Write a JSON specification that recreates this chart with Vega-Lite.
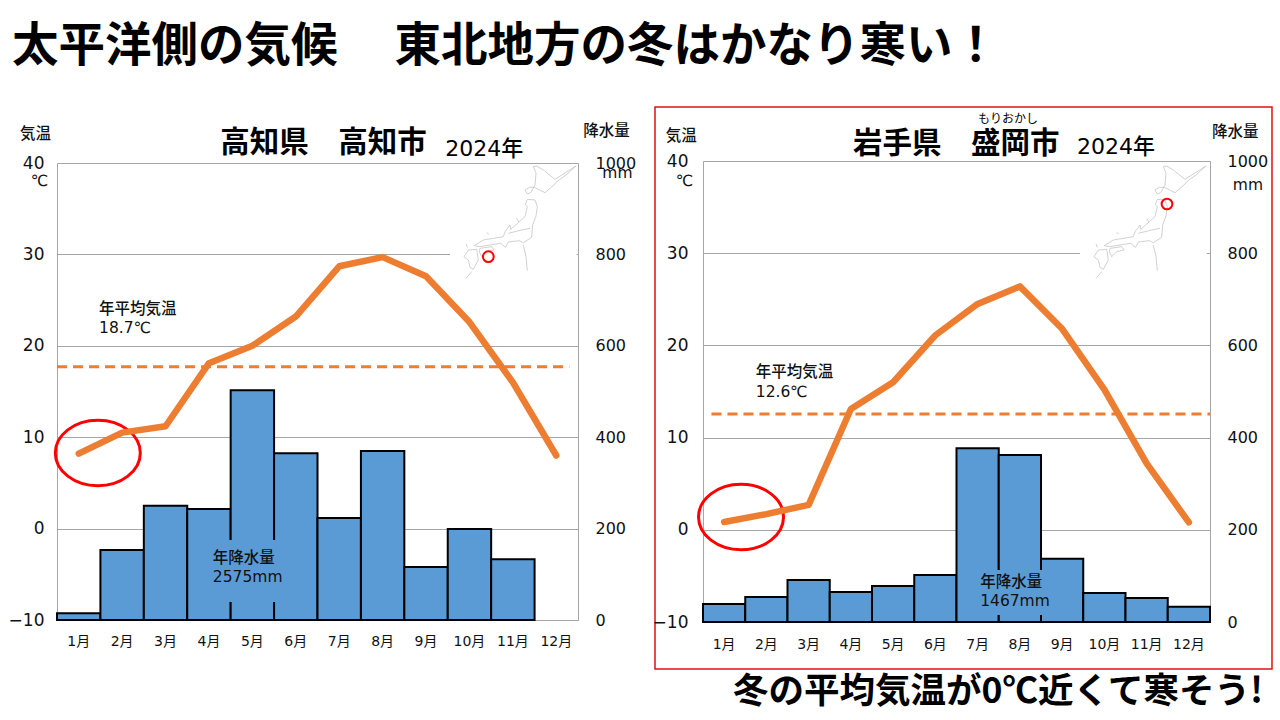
{"$schema":"https://vega.github.io/schema/vega-lite/v6.json","padding":{"left":0,"top":23,"right":0,"bottom":0},"background":"white","spacing":11,"config":{"view":{"stroke":null},"font":"DejaVu Sans, Noto Sans CJK JP","axis":{"labelFont":"DejaVu Sans, Noto Sans CJK JP","labelColor":"#111"},"text":{"font":"DejaVu Sans, Noto Sans CJK JP"}},
"title":{"text":"太平洋側の気候\u3000 東北地方の冬はかなり寒い\uff01","anchor":"start","frame":"group","fontSize":46.5,"fontWeight":"bold","font":"Noto Sans CJK JP","color":"#000","dx":12,"offset":36},
"datasets":{
"kochi":[{"month":"1月","temp":8.2,"rain":15},{"month":"2月","temp":10.5,"rain":153},{"month":"3月","temp":11.2,"rain":250},{"month":"4月","temp":18.1,"rain":243},{"month":"5月","temp":20,"rain":503},{"month":"6月","temp":23.2,"rain":365},{"month":"7月","temp":28.7,"rain":223},{"month":"8月","temp":29.7,"rain":370},{"month":"9月","temp":27.6,"rain":116},{"month":"10月","temp":22.6,"rain":199},{"month":"11月","temp":16,"rain":133},{"month":"12月","temp":8,"rain":0}],
"morioka":[{"month":"1月","temp":0.85,"rain":39},{"month":"2月","temp":1.7,"rain":54},{"month":"3月","temp":2.7,"rain":91},{"month":"4月","temp":13.1,"rain":65},{"month":"5月","temp":16,"rain":78},{"month":"6月","temp":21.1,"rain":102},{"month":"7月","temp":24.5,"rain":377},{"month":"8月","temp":26.4,"rain":362},{"month":"9月","temp":21.8,"rain":137},{"month":"10月","temp":15.2,"rain":63},{"month":"11月","temp":7.2,"rain":52},{"month":"12月","temp":0.8,"rain":33}],
"japan":[
{"part":"hokkaido","seq":1,"mx":280,"my":170},{"part":"hokkaido","seq":2,"mx":290,"my":168},{"part":"hokkaido","seq":3,"mx":310,"my":180},{"part":"hokkaido","seq":4,"mx":345,"my":208},{"part":"hokkaido","seq":5,"mx":370,"my":192},{"part":"hokkaido","seq":6,"mx":408,"my":168},{"part":"hokkaido","seq":7,"mx":378,"my":195},{"part":"hokkaido","seq":8,"mx":350,"my":215},{"part":"hokkaido","seq":9,"mx":345,"my":222},{"part":"hokkaido","seq":10,"mx":315,"my":248},{"part":"hokkaido","seq":11,"mx":283,"my":232},{"part":"hokkaido","seq":12,"mx":268,"my":232},{"part":"hokkaido","seq":13,"mx":255,"my":240},{"part":"hokkaido","seq":14,"mx":262,"my":252},{"part":"hokkaido","seq":15,"mx":272,"my":248},{"part":"hokkaido","seq":16,"mx":285,"my":225},{"part":"hokkaido","seq":17,"mx":288,"my":190},{"part":"hokkaido","seq":18,"mx":280,"my":170},
{"part":"honshu","seq":1,"mx":262,"my":268},{"part":"honshu","seq":2,"mx":285,"my":270},{"part":"honshu","seq":3,"mx":292,"my":290},{"part":"honshu","seq":4,"mx":288,"my":318},{"part":"honshu","seq":5,"mx":278,"my":345},{"part":"honshu","seq":6,"mx":275,"my":382},{"part":"honshu","seq":7,"mx":250,"my":398},{"part":"honshu","seq":8,"mx":238,"my":392},{"part":"honshu","seq":9,"mx":205,"my":396},{"part":"honshu","seq":10,"mx":197,"my":412},{"part":"honshu","seq":11,"mx":182,"my":400},{"part":"honshu","seq":12,"mx":150,"my":405},{"part":"honshu","seq":13,"mx":118,"my":410},{"part":"honshu","seq":14,"mx":103,"my":407},{"part":"honshu","seq":15,"mx":130,"my":390},{"part":"honshu","seq":16,"mx":190,"my":380},{"part":"honshu","seq":17,"mx":195,"my":365},{"part":"honshu","seq":18,"mx":210,"my":345},{"part":"honshu","seq":19,"mx":212,"my":358},{"part":"honshu","seq":20,"mx":255,"my":320},{"part":"honshu","seq":21,"mx":262,"my":290},{"part":"honshu","seq":22,"mx":256,"my":283},{"part":"honshu","seq":23,"mx":262,"my":268},
{"part":"honshuBorder","seq":1,"mx":205,"my":370},{"part":"honshuBorder","seq":2,"mx":245,"my":360},{"part":"honshuBorder","seq":3,"mx":270,"my":355},
{"part":"shikoku","seq":1,"mx":120,"my":415},{"part":"shikoku","seq":2,"mx":155,"my":410},{"part":"shikoku","seq":3,"mx":162,"my":420},{"part":"shikoku","seq":4,"mx":140,"my":425},{"part":"shikoku","seq":5,"mx":125,"my":440},{"part":"shikoku","seq":6,"mx":118,"my":425},{"part":"shikoku","seq":7,"mx":120,"my":415},
{"part":"kyushu","seq":1,"mx":85,"my":420},{"part":"kyushu","seq":2,"mx":110,"my":418},{"part":"kyushu","seq":3,"mx":115,"my":450},{"part":"kyushu","seq":4,"mx":100,"my":478},{"part":"kyushu","seq":5,"mx":90,"my":472},{"part":"kyushu","seq":6,"mx":85,"my":450},{"part":"kyushu","seq":7,"mx":72,"my":440},{"part":"kyushu","seq":8,"mx":85,"my":420},
{"part":"sado","seq":1,"mx":230,"my":325},{"part":"sado","seq":2,"mx":236,"my":336},
{"part":"oki","seq":1,"mx":140,"my":368},{"part":"oki","seq":2,"mx":146,"my":372},
{"part":"tsushima","seq":1,"mx":78,"my":402},{"part":"tsushima","seq":2,"mx":82,"my":412},
{"part":"izu","seq":1,"mx":250,"my":405},{"part":"izu","seq":2,"mx":258,"my":440},{"part":"izu","seq":3,"mx":262,"my":482},
{"part":"nansei","seq":1,"mx":95,"my":485},{"part":"nansei","seq":2,"mx":78,"my":505}],
"mapCover":[{"mx0":30,"mx1":410,"my0":165,"my1":480}],
"kochiSite":[{"name":"高知市","mx":145,"my":440}],
"moriokaSite":[{"name":"盛岡市","mx":291,"my":282}],
"kochiSmall":[{"label":"気温","mon":-0.85,"t":43.2},{"label":"℃","mon":-0.6,"t":38},{"label":"降水量","mon":12.12,"t":43.5},{"label":"mm","mon":12.56,"t":38.9},{"label":"年平均気温","mon":0.97,"t":24},{"label":"18.7℃","mon":0.97,"t":21.95},{"label":"年降水量","mon":3.59,"t":-3.2},{"label":"2575mm","mon":3.59,"t":-5.3}],
"moriokaSmall":[{"label":"気温","mon":-0.88,"t":42.7},{"label":"℃","mon":-0.64,"t":37.8},{"label":"降水量","mon":12.05,"t":43.1},{"label":"mm","mon":12.54,"t":37.4},{"label":"年平均気温","mon":1.25,"t":17.1},{"label":"12.6℃","mon":1.25,"t":14.9},{"label":"年降水量","mon":6.56,"t":-5.66},{"label":"1467mm","mon":6.56,"t":-7.7}]
},
"hconcat":[
{"width":640,"height":562,"resolve":{"scale":{"x":"independent","y":"independent"}},
"layer":[
{"data":{"name":"kochi"},"transform":[{"filter":"datum.rain > 0"}],"mark":{"type":"bar","color":"#5B9BD5","stroke":"#000","strokeWidth":2},"encoding":{"x":{"field":"month","type":"nominal","scale":{"type":"band","domain":["1月","2月","3月","4月","5月","6月","7月","8月","9月","10月","11月","12月"],"range":[57,578],"paddingInner":0,"paddingOuter":0},"axis":{"title":null,"labelAngle":0,"ticks":false,"grid":false,"domainColor":"#A6A6A6","offset":-49,"labelPadding":14,"labelFontSize":14}},"y":{"field":"rain","type":"quantitative","scale":{"domain":[0,1000],"range":[513,56],"nice":false},"axis":{"title":null,"orient":"right","offset":-62,"values":[0,200,400,600,800,1000],"format":"d","ticks":false,"grid":false,"domainColor":"#A6A6A6","labelPadding":17,"labelFontSize":16}}}},
{"layer":[
{"data":{"name":"mapCover"},"mark":{"type":"rect","color":"white"},"encoding":{"x":{"field":"mx0","type":"quantitative","scale":{"domain":[0,630],"range":[440,650],"nice":false,"zero":false},"axis":null},"x2":{"field":"mx1"},"y":{"field":"my0","type":"quantitative","scale":{"domain":[0,540],"range":[3,183],"nice":false,"zero":false},"axis":null},"y2":{"field":"my1"}}},
{"data":{"name":"japan"},"mark":{"type":"line","color":"#bdbdbd","strokeWidth":0.7},"encoding":{"x":{"field":"mx","type":"quantitative","axis":null},"y":{"field":"my","type":"quantitative","axis":null},"detail":{"field":"part"},"order":{"field":"seq"}}},
{"data":{"name":"kochiSite"},"mark":{"type":"point","color":"#FF0000","filled":false,"strokeWidth":2,"size":115,"opacity":1},"encoding":{"x":{"field":"mx","type":"quantitative","axis":null},"y":{"field":"my","type":"quantitative","axis":null}}}
]},
{"layer":[
{"data":{"values":[{"name":"年降水量","mon0":3.18,"mon1":5.48,"t0":-1.25,"t1":-8.03}]},"mark":{"type":"rect","color":"#5B9BD5"},"encoding":{"x":{"field":"mon0","type":"quantitative","scale":{"domain":[0,12],"range":[57,578],"nice":false,"zero":false},"axis":null},"x2":{"field":"mon1"},"y":{"field":"t0","type":"quantitative","scale":{"domain":[-10,40],"range":[513,56],"nice":false},"axis":null},"y2":{"field":"t1"}}},
{"data":{"values":[{"name":"年平均気温","mon0":0,"mon1":11.8,"t":17.7}]},"mark":{"type":"rule","color":"#ED7D31","strokeWidth":3,"strokeDash":[10,6]},"encoding":{"x":{"field":"mon0","type":"quantitative","axis":null},"x2":{"field":"mon1"},"y":{"field":"t","type":"quantitative","axis":null}}},
{"data":{"values":[{"name":"冬","mon":0.94,"t":8.27}]},"mark":{"type":"point","filled":false,"color":"#FF0000","opacity":1,"strokeWidth":3,"size":7225,"shape":"M -1 0 A 1 0.77 0 1 1 1 0 A 1 0.77 0 1 1 -1 0 Z"},"encoding":{"x":{"field":"mon","type":"quantitative","axis":null},"y":{"field":"t","type":"quantitative","axis":null}}},
{"data":{"name":"kochiSmall"},"mark":{"type":"text","align":"left","baseline":"middle","fontSize":15.5,"fontWeight":500,"color":"#111"},"encoding":{"x":{"field":"mon","type":"quantitative","axis":null},"y":{"field":"t","type":"quantitative","axis":null},"text":{"field":"label"}}},
{"data":{"values":[{"label":"高知県\u3000高知市","mon":3.76,"t":42.2}]},"mark":{"type":"text","align":"left","baseline":"middle","fontSize":29.5,"fontWeight":"bold","font":"Noto Sans CJK JP","color":"#000"},"encoding":{"x":{"field":"mon","type":"quantitative","axis":null},"y":{"field":"t","type":"quantitative","axis":null},"text":{"field":"label"}}},
{"data":{"values":[{"label":"2024年","mon":8.94,"t":41.5}]},"mark":{"type":"text","align":"left","baseline":"middle","fontSize":22,"fontWeight":500,"color":"#000"},"encoding":{"x":{"field":"mon","type":"quantitative","axis":null},"y":{"field":"t","type":"quantitative","axis":null},"text":{"field":"label"}}}
]},
{"layer":[
{"data":{"name":"kochi"},"mark":{"type":"line","color":"#ED7D31","strokeWidth":6.5,"strokeCap":"round","strokeJoin":"round"},"encoding":{"x":{"field":"month","type":"nominal","sort":null,"scale":{"type":"band","domain":["1月","2月","3月","4月","5月","6月","7月","8月","9月","10月","11月","12月"],"range":[57,578],"paddingInner":0,"paddingOuter":0},"axis":null},"y":{"field":"temp","type":"quantitative","scale":{"domain":[-10,40],"range":[513,56],"nice":false},"axis":{"title":null,"orient":"left","offset":-57,"values":[-10,0,10,20,30,40],"ticks":false,"grid":true,"gridColor":"#A6A6A6","domainColor":"#A6A6A6","labelPadding":13,"labelFontSize":17}}}}
]}
]},
{"width":617,"height":562,"view":{"stroke":"#E01010","strokeWidth":1.5},"resolve":{"scale":{"x":"independent","y":"independent"}},
"layer":[
{"data":{"name":"morioka"},"mark":{"type":"bar","color":"#5B9BD5","stroke":"#000","strokeWidth":2},"encoding":{"x":{"field":"month","type":"nominal","scale":{"type":"band","domain":["1月","2月","3月","4月","5月","6月","7月","8月","9月","10月","11月","12月"],"range":[48,555],"paddingInner":0,"paddingOuter":0},"axis":{"title":null,"labelAngle":0,"ticks":false,"grid":false,"domainColor":"#A6A6A6","offset":-47,"labelPadding":15,"labelFontSize":14}},"y":{"field":"rain","type":"quantitative","scale":{"domain":[0,1000],"range":[515,54],"nice":false},"axis":{"title":null,"orient":"right","offset":-62,"values":[0,200,400,600,800,1000],"format":"d","ticks":false,"grid":false,"domainColor":"#A6A6A6","labelPadding":17,"labelFontSize":16}}}},
{"layer":[
{"data":{"name":"mapCover"},"mark":{"type":"rect","color":"white"},"encoding":{"x":{"field":"mx0","type":"quantitative","scale":{"domain":[0,630],"range":[415,625],"nice":false,"zero":false},"axis":null},"x2":{"field":"mx1"},"y":{"field":"my0","type":"quantitative","scale":{"domain":[0,540],"range":[3,183],"nice":false,"zero":false},"axis":null},"y2":{"field":"my1"}}},
{"data":{"name":"japan"},"mark":{"type":"line","color":"#bdbdbd","strokeWidth":0.7},"encoding":{"x":{"field":"mx","type":"quantitative","axis":null},"y":{"field":"my","type":"quantitative","axis":null},"detail":{"field":"part"},"order":{"field":"seq"}}},
{"data":{"name":"moriokaSite"},"mark":{"type":"point","color":"#FF0000","filled":false,"strokeWidth":2,"size":115,"opacity":1},"encoding":{"x":{"field":"mx","type":"quantitative","axis":null},"y":{"field":"my","type":"quantitative","axis":null}}}
]},
{"layer":[
{"data":{"values":[{"name":"年降水量","mon0":6.2,"mon1":8.5,"t0":-4.36,"t1":-9.24}]},"mark":{"type":"rect","color":"#5B9BD5"},"encoding":{"x":{"field":"mon0","type":"quantitative","scale":{"domain":[0,12],"range":[48,555],"nice":false,"zero":false},"axis":null},"x2":{"field":"mon1"},"y":{"field":"t0","type":"quantitative","scale":{"domain":[-10,40],"range":[515,54],"nice":false},"axis":null},"y2":{"field":"t1"}}},
{"data":{"values":[{"name":"年平均気温","mon0":0.2,"mon1":12,"t":12.56}]},"mark":{"type":"rule","color":"#ED7D31","strokeWidth":3,"strokeDash":[10,6]},"encoding":{"x":{"field":"mon0","type":"quantitative","axis":null},"x2":{"field":"mon1"},"y":{"field":"t","type":"quantitative","axis":null}}},
{"data":{"values":[{"name":"冬","mon":0.9,"t":1.39}]},"mark":{"type":"point","filled":false,"color":"#FF0000","opacity":1,"strokeWidth":3,"size":7225,"shape":"M -1 0 A 1 0.77 0 1 1 1 0 A 1 0.77 0 1 1 -1 0 Z"},"encoding":{"x":{"field":"mon","type":"quantitative","axis":null},"y":{"field":"t","type":"quantitative","axis":null}}},
{"data":{"name":"moriokaSmall"},"mark":{"type":"text","align":"left","baseline":"middle","fontSize":15.5,"fontWeight":500,"color":"#111"},"encoding":{"x":{"field":"mon","type":"quantitative","axis":null},"y":{"field":"t","type":"quantitative","axis":null},"text":{"field":"label"}}},
{"data":{"values":[{"label":"岩手県\u3000盛岡市","mon":3.55,"t":41.8}]},"mark":{"type":"text","align":"left","baseline":"middle","fontSize":29.5,"fontWeight":"bold","font":"Noto Sans CJK JP","color":"#000"},"encoding":{"x":{"field":"mon","type":"quantitative","axis":null},"y":{"field":"t","type":"quantitative","axis":null},"text":{"field":"label"}}},
{"data":{"values":[{"label":"2024年","mon":8.85,"t":41.5}]},"mark":{"type":"text","align":"left","baseline":"middle","fontSize":22,"fontWeight":500,"color":"#000"},"encoding":{"x":{"field":"mon","type":"quantitative","axis":null},"y":{"field":"t","type":"quantitative","axis":null},"text":{"field":"label"}}},
{"data":{"values":[{"label":"もりおかし","mon":6.51,"t":44.6}]},"mark":{"type":"text","align":"left","baseline":"middle","fontSize":12,"color":"#000"},"encoding":{"x":{"field":"mon","type":"quantitative","axis":null},"y":{"field":"t","type":"quantitative","axis":null},"text":{"field":"label"}}},
{"data":{"values":[{"label":"冬の平均気温が0℃近くて寒そう!","mon":0.71,"t":-17.6}]},"mark":{"type":"text","align":"left","baseline":"middle","fontSize":35.5,"fontWeight":"bold","font":"Noto Sans CJK JP","color":"#000"},"encoding":{"x":{"field":"mon","type":"quantitative","axis":null},"y":{"field":"t","type":"quantitative","axis":null},"text":{"field":"label"}}}
]},
{"layer":[
{"data":{"name":"morioka"},"mark":{"type":"line","color":"#ED7D31","strokeWidth":6.5,"strokeCap":"round","strokeJoin":"round"},"encoding":{"x":{"field":"month","type":"nominal","sort":null,"scale":{"type":"band","domain":["1月","2月","3月","4月","5月","6月","7月","8月","9月","10月","11月","12月"],"range":[48,555],"paddingInner":0,"paddingOuter":0},"axis":null},"y":{"field":"temp","type":"quantitative","scale":{"domain":[-10,40],"range":[515,54],"nice":false},"axis":{"title":null,"orient":"left","offset":-48,"values":[-10,0,10,20,30,40],"ticks":false,"grid":true,"gridColor":"#A6A6A6","domainColor":"#A6A6A6","labelPadding":15,"labelFontSize":17}}}}
]}
]}
]}
